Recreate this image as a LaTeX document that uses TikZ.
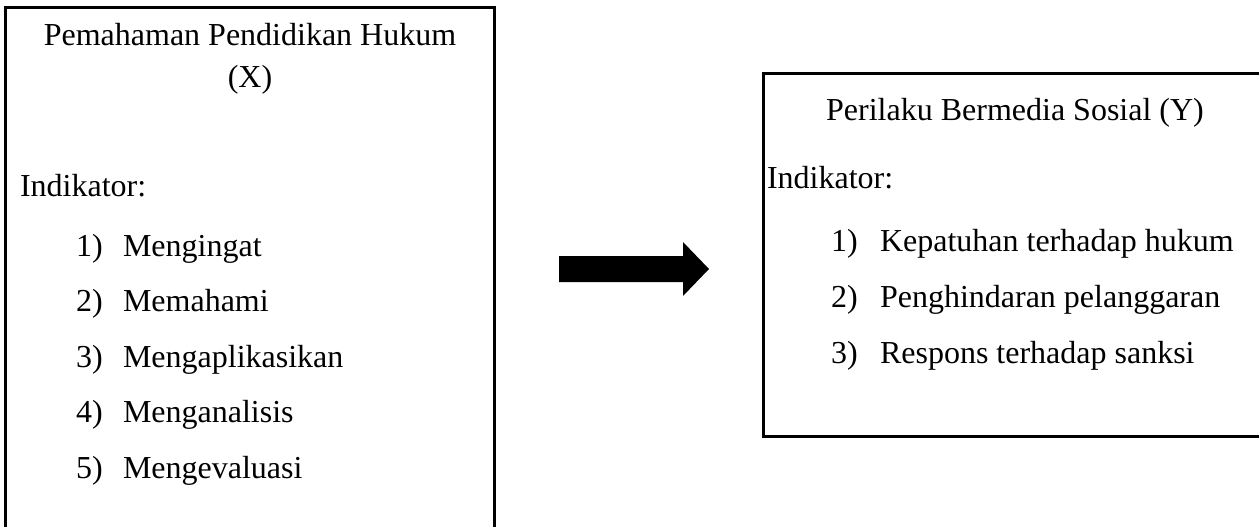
\documentclass[tikz,border=0pt]{standalone}
\usepackage{fontspec}
\setmainfont{Liberation Serif}
\begin{document}
\begin{tikzpicture}[x=1pt,y=-1pt,
  frame/.style={draw=black,line width=3pt},
  txt/.style={inner sep=0pt,outer sep=0pt,font=\fontsize{32}{38}\selectfont},
  lt/.style={txt,anchor=base west},
  ct/.style={txt,anchor=base}]
\useasboundingbox (0,0) rectangle (1259,527);
\clip (0,0) rectangle (1259,527);
\fill[white] (0,0) rectangle (1259,527);
% boxes
\draw[frame] (5,8) rectangle (494,560);
\draw[frame] (763,74) rectangle (1290,436);
% left box text
\node[ct] (lt1) at (250,46) {Pemahaman Pendidikan Hukum};
\node[ct] (lt2) at (250,88) {(X)};
\node[lt] (lind) at (20,196) {Indikator:};
\foreach \i/\t [count=\k] in {1/Mengingat,2/Memahami,3/Mengaplikasikan,4/Menganalisis,5/Mengevaluasi}{
  \node[lt] (ln\k) at (76,{256+55.5*(\k-1)}) {\i)};
  \node[lt] (li\k) at (123,{256+55.5*(\k-1)}) {\t};
}
% right box text
\node[ct] (rt1) at (1015,121) {Perilaku Bermedia Sosial (Y)};
\node[lt] (rind) at (767,188) {Indikator:};
\foreach \i/\t [count=\k] in {1/Kepatuhan terhadap hukum,2/Penghindaran pelanggaran,3/Respons terhadap sanksi}{
  \node[lt] (rn\k) at (831,{251+56*(\k-1)}) {\i)};
  \node[lt] (ri\k) at (880,{251+56*(\k-1)}) {\t};
}
% block arrow
\fill[black] (559,256) -- (683,256) -- (683,242) -- (709,269) -- (683,296) -- (683,282) -- (559,282) -- cycle;
\end{tikzpicture}
\end{document}
